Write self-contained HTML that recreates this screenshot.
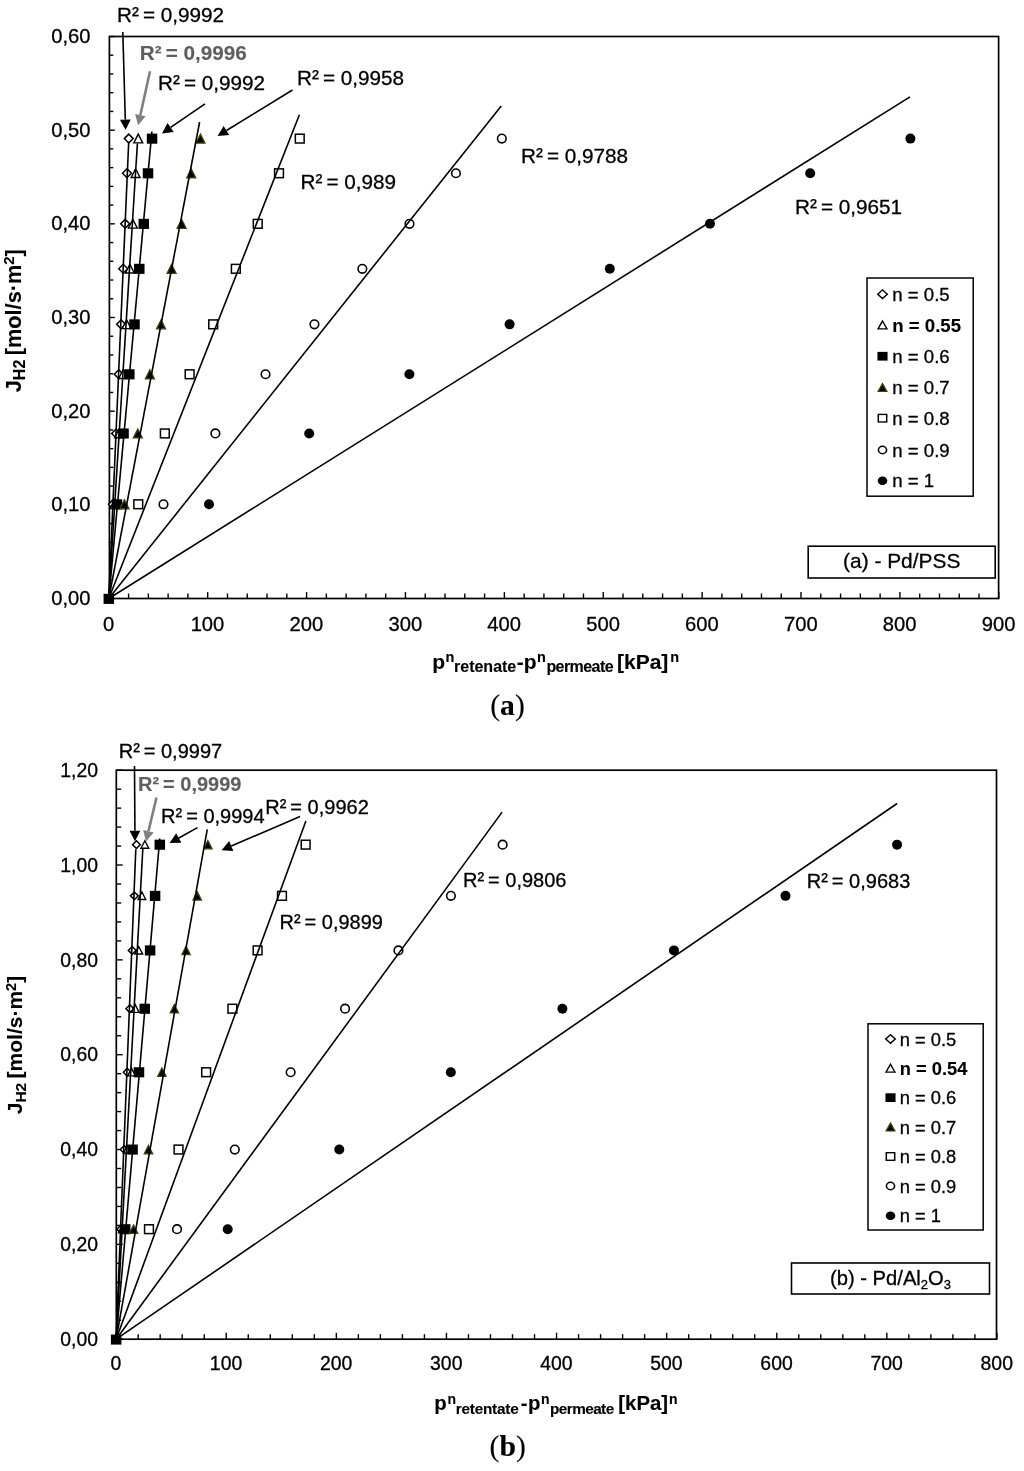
<!DOCTYPE html>
<html><head><meta charset="utf-8"><title>Figure</title>
<style>html,body{margin:0;padding:0;background:#fff}svg{display:block}svg{font-family:"Liberation Sans", sans-serif}text{stroke:#000;stroke-width:.3px}text.b{stroke-width:.12px}</style>
</head><body>
<svg width="1024" height="1471" viewBox="0 0 1024 1471">
<rect width="1024" height="1471" fill="#fff"/>
<g>
<rect x="109.4" y="36.5" width="889.2" height="562.0" fill="none" stroke="#000" stroke-width="1.7"/>
<line x1="108.80" y1="598.5" x2="108.80" y2="592.1" stroke="#000" stroke-width="1.4"/>
<text x="108.60" y="630.5" text-anchor="middle" font-size="20.2">0</text>
<line x1="128.58" y1="598.5" x2="128.58" y2="593.5" stroke="#000" stroke-width="1.4"/>
<line x1="148.36" y1="598.5" x2="148.36" y2="593.5" stroke="#000" stroke-width="1.4"/>
<line x1="168.13" y1="598.5" x2="168.13" y2="593.5" stroke="#000" stroke-width="1.4"/>
<line x1="187.91" y1="598.5" x2="187.91" y2="593.5" stroke="#000" stroke-width="1.4"/>
<line x1="207.69" y1="598.5" x2="207.69" y2="592.1" stroke="#000" stroke-width="1.4"/>
<text x="207.49" y="630.5" text-anchor="middle" font-size="20.2">100</text>
<line x1="227.47" y1="598.5" x2="227.47" y2="593.5" stroke="#000" stroke-width="1.4"/>
<line x1="247.24" y1="598.5" x2="247.24" y2="593.5" stroke="#000" stroke-width="1.4"/>
<line x1="267.02" y1="598.5" x2="267.02" y2="593.5" stroke="#000" stroke-width="1.4"/>
<line x1="286.80" y1="598.5" x2="286.80" y2="593.5" stroke="#000" stroke-width="1.4"/>
<line x1="306.58" y1="598.5" x2="306.58" y2="592.1" stroke="#000" stroke-width="1.4"/>
<text x="306.38" y="630.5" text-anchor="middle" font-size="20.2">200</text>
<line x1="326.36" y1="598.5" x2="326.36" y2="593.5" stroke="#000" stroke-width="1.4"/>
<line x1="346.13" y1="598.5" x2="346.13" y2="593.5" stroke="#000" stroke-width="1.4"/>
<line x1="365.91" y1="598.5" x2="365.91" y2="593.5" stroke="#000" stroke-width="1.4"/>
<line x1="385.69" y1="598.5" x2="385.69" y2="593.5" stroke="#000" stroke-width="1.4"/>
<line x1="405.47" y1="598.5" x2="405.47" y2="592.1" stroke="#000" stroke-width="1.4"/>
<text x="405.27" y="630.5" text-anchor="middle" font-size="20.2">300</text>
<line x1="425.24" y1="598.5" x2="425.24" y2="593.5" stroke="#000" stroke-width="1.4"/>
<line x1="445.02" y1="598.5" x2="445.02" y2="593.5" stroke="#000" stroke-width="1.4"/>
<line x1="464.80" y1="598.5" x2="464.80" y2="593.5" stroke="#000" stroke-width="1.4"/>
<line x1="484.58" y1="598.5" x2="484.58" y2="593.5" stroke="#000" stroke-width="1.4"/>
<line x1="504.36" y1="598.5" x2="504.36" y2="592.1" stroke="#000" stroke-width="1.4"/>
<text x="504.16" y="630.5" text-anchor="middle" font-size="20.2">400</text>
<line x1="524.13" y1="598.5" x2="524.13" y2="593.5" stroke="#000" stroke-width="1.4"/>
<line x1="543.91" y1="598.5" x2="543.91" y2="593.5" stroke="#000" stroke-width="1.4"/>
<line x1="563.69" y1="598.5" x2="563.69" y2="593.5" stroke="#000" stroke-width="1.4"/>
<line x1="583.47" y1="598.5" x2="583.47" y2="593.5" stroke="#000" stroke-width="1.4"/>
<line x1="603.24" y1="598.5" x2="603.24" y2="592.1" stroke="#000" stroke-width="1.4"/>
<text x="603.04" y="630.5" text-anchor="middle" font-size="20.2">500</text>
<line x1="623.02" y1="598.5" x2="623.02" y2="593.5" stroke="#000" stroke-width="1.4"/>
<line x1="642.80" y1="598.5" x2="642.80" y2="593.5" stroke="#000" stroke-width="1.4"/>
<line x1="662.58" y1="598.5" x2="662.58" y2="593.5" stroke="#000" stroke-width="1.4"/>
<line x1="682.36" y1="598.5" x2="682.36" y2="593.5" stroke="#000" stroke-width="1.4"/>
<line x1="702.13" y1="598.5" x2="702.13" y2="592.1" stroke="#000" stroke-width="1.4"/>
<text x="701.93" y="630.5" text-anchor="middle" font-size="20.2">600</text>
<line x1="721.91" y1="598.5" x2="721.91" y2="593.5" stroke="#000" stroke-width="1.4"/>
<line x1="741.69" y1="598.5" x2="741.69" y2="593.5" stroke="#000" stroke-width="1.4"/>
<line x1="761.47" y1="598.5" x2="761.47" y2="593.5" stroke="#000" stroke-width="1.4"/>
<line x1="781.24" y1="598.5" x2="781.24" y2="593.5" stroke="#000" stroke-width="1.4"/>
<line x1="801.02" y1="598.5" x2="801.02" y2="592.1" stroke="#000" stroke-width="1.4"/>
<text x="800.82" y="630.5" text-anchor="middle" font-size="20.2">700</text>
<line x1="820.80" y1="598.5" x2="820.80" y2="593.5" stroke="#000" stroke-width="1.4"/>
<line x1="840.58" y1="598.5" x2="840.58" y2="593.5" stroke="#000" stroke-width="1.4"/>
<line x1="860.36" y1="598.5" x2="860.36" y2="593.5" stroke="#000" stroke-width="1.4"/>
<line x1="880.13" y1="598.5" x2="880.13" y2="593.5" stroke="#000" stroke-width="1.4"/>
<line x1="899.91" y1="598.5" x2="899.91" y2="592.1" stroke="#000" stroke-width="1.4"/>
<text x="899.71" y="630.5" text-anchor="middle" font-size="20.2">800</text>
<line x1="919.69" y1="598.5" x2="919.69" y2="593.5" stroke="#000" stroke-width="1.4"/>
<line x1="939.47" y1="598.5" x2="939.47" y2="593.5" stroke="#000" stroke-width="1.4"/>
<line x1="959.24" y1="598.5" x2="959.24" y2="593.5" stroke="#000" stroke-width="1.4"/>
<line x1="979.02" y1="598.5" x2="979.02" y2="593.5" stroke="#000" stroke-width="1.4"/>
<line x1="998.80" y1="598.5" x2="998.80" y2="592.1" stroke="#000" stroke-width="1.4"/>
<text x="998.60" y="630.5" text-anchor="middle" font-size="20.2">900</text>
<line x1="109.4" y1="598.50" x2="114.80000000000001" y2="598.50" stroke="#000" stroke-width="1.4"/>
<text x="90.5" y="604.90" text-anchor="end" font-size="20.2">0,00</text>
<line x1="109.4" y1="579.77" x2="113.30000000000001" y2="579.77" stroke="#000" stroke-width="1.4"/>
<line x1="109.4" y1="561.03" x2="113.30000000000001" y2="561.03" stroke="#000" stroke-width="1.4"/>
<line x1="109.4" y1="542.30" x2="113.30000000000001" y2="542.30" stroke="#000" stroke-width="1.4"/>
<line x1="109.4" y1="523.57" x2="113.30000000000001" y2="523.57" stroke="#000" stroke-width="1.4"/>
<line x1="109.4" y1="504.83" x2="114.80000000000001" y2="504.83" stroke="#000" stroke-width="1.4"/>
<text x="90.5" y="511.23" text-anchor="end" font-size="20.2">0,10</text>
<line x1="109.4" y1="486.10" x2="113.30000000000001" y2="486.10" stroke="#000" stroke-width="1.4"/>
<line x1="109.4" y1="467.37" x2="113.30000000000001" y2="467.37" stroke="#000" stroke-width="1.4"/>
<line x1="109.4" y1="448.63" x2="113.30000000000001" y2="448.63" stroke="#000" stroke-width="1.4"/>
<line x1="109.4" y1="429.90" x2="113.30000000000001" y2="429.90" stroke="#000" stroke-width="1.4"/>
<line x1="109.4" y1="411.17" x2="114.80000000000001" y2="411.17" stroke="#000" stroke-width="1.4"/>
<text x="90.5" y="417.57" text-anchor="end" font-size="20.2">0,20</text>
<line x1="109.4" y1="392.43" x2="113.30000000000001" y2="392.43" stroke="#000" stroke-width="1.4"/>
<line x1="109.4" y1="373.70" x2="113.30000000000001" y2="373.70" stroke="#000" stroke-width="1.4"/>
<line x1="109.4" y1="354.97" x2="113.30000000000001" y2="354.97" stroke="#000" stroke-width="1.4"/>
<line x1="109.4" y1="336.23" x2="113.30000000000001" y2="336.23" stroke="#000" stroke-width="1.4"/>
<line x1="109.4" y1="317.50" x2="114.80000000000001" y2="317.50" stroke="#000" stroke-width="1.4"/>
<text x="90.5" y="323.90" text-anchor="end" font-size="20.2">0,30</text>
<line x1="109.4" y1="298.77" x2="113.30000000000001" y2="298.77" stroke="#000" stroke-width="1.4"/>
<line x1="109.4" y1="280.03" x2="113.30000000000001" y2="280.03" stroke="#000" stroke-width="1.4"/>
<line x1="109.4" y1="261.30" x2="113.30000000000001" y2="261.30" stroke="#000" stroke-width="1.4"/>
<line x1="109.4" y1="242.57" x2="113.30000000000001" y2="242.57" stroke="#000" stroke-width="1.4"/>
<line x1="109.4" y1="223.83" x2="114.80000000000001" y2="223.83" stroke="#000" stroke-width="1.4"/>
<text x="90.5" y="230.23" text-anchor="end" font-size="20.2">0,40</text>
<line x1="109.4" y1="205.10" x2="113.30000000000001" y2="205.10" stroke="#000" stroke-width="1.4"/>
<line x1="109.4" y1="186.37" x2="113.30000000000001" y2="186.37" stroke="#000" stroke-width="1.4"/>
<line x1="109.4" y1="167.63" x2="113.30000000000001" y2="167.63" stroke="#000" stroke-width="1.4"/>
<line x1="109.4" y1="148.90" x2="113.30000000000001" y2="148.90" stroke="#000" stroke-width="1.4"/>
<line x1="109.4" y1="130.17" x2="114.80000000000001" y2="130.17" stroke="#000" stroke-width="1.4"/>
<text x="90.5" y="136.57" text-anchor="end" font-size="20.2">0,50</text>
<line x1="109.4" y1="111.43" x2="113.30000000000001" y2="111.43" stroke="#000" stroke-width="1.4"/>
<line x1="109.4" y1="92.70" x2="113.30000000000001" y2="92.70" stroke="#000" stroke-width="1.4"/>
<line x1="109.4" y1="73.97" x2="113.30000000000001" y2="73.97" stroke="#000" stroke-width="1.4"/>
<line x1="109.4" y1="55.23" x2="113.30000000000001" y2="55.23" stroke="#000" stroke-width="1.4"/>
<line x1="109.4" y1="36.50" x2="114.80000000000001" y2="36.50" stroke="#000" stroke-width="1.4"/>
<text x="90.5" y="42.90" text-anchor="end" font-size="20.2">0,60</text>
<path d="M112.92,499.82 L117.37,504.27 L112.92,508.71999999999997 L108.47,504.27 Z" fill="#fff" stroke="#000" stroke-width="1.5"/>
<path d="M116.09,429.01 L120.54,433.46 L116.09,437.90999999999997 L111.64,433.46 Z" fill="#fff" stroke="#000" stroke-width="1.5"/>
<path d="M118.75,369.81 L123.2,374.26 L118.75,378.71 L114.3,374.26 Z" fill="#fff" stroke="#000" stroke-width="1.5"/>
<path d="M121.1,319.89 L125.55,324.34 L121.1,328.78999999999996 L116.64999999999999,324.34 Z" fill="#fff" stroke="#000" stroke-width="1.5"/>
<path d="M123.23,264.34000000000003 L127.68,268.79 L123.23,273.24 L118.78,268.79 Z" fill="#fff" stroke="#000" stroke-width="1.5"/>
<path d="M125.18,219.38000000000002 L129.63,223.83 L125.18,228.28 L120.73,223.83 Z" fill="#fff" stroke="#000" stroke-width="1.5"/>
<path d="M127.0,168.8 L131.45,173.25 L127.0,177.7 L122.55,173.25 Z" fill="#fff" stroke="#000" stroke-width="1.5"/>
<path d="M128.71,134.15 L133.16,138.6 L128.71,143.04999999999998 L124.26,138.6 Z" fill="#fff" stroke="#000" stroke-width="1.5"/>
<path d="M114.62,499.82 L119.07000000000001,508.52 L110.17,508.52 Z" fill="#fff" stroke="#000" stroke-width="1.4"/>
<path d="M119.21,429.01 L123.66,437.71 L114.75999999999999,437.71 Z" fill="#fff" stroke="#000" stroke-width="1.4"/>
<path d="M123.14,369.81 L127.59,378.51 L118.69,378.51 Z" fill="#fff" stroke="#000" stroke-width="1.4"/>
<path d="M126.65,319.89 L131.1,328.59 L122.2,328.59 Z" fill="#fff" stroke="#000" stroke-width="1.4"/>
<path d="M129.86,264.34000000000003 L134.31,273.04 L125.41000000000001,273.04 Z" fill="#fff" stroke="#000" stroke-width="1.4"/>
<path d="M132.83,219.38000000000002 L137.28,228.08 L128.38000000000002,228.08 Z" fill="#fff" stroke="#000" stroke-width="1.4"/>
<path d="M135.61,168.8 L140.06,177.5 L131.16000000000003,177.5 Z" fill="#fff" stroke="#000" stroke-width="1.4"/>
<path d="M138.25,134.15 L142.7,142.85 L133.8,142.85 Z" fill="#fff" stroke="#000" stroke-width="1.4"/>
<rect x="111.70" y="499.27" width="10.5" height="10.1" fill="#000"/>
<rect x="118.29" y="428.46" width="10.5" height="10.1" fill="#000"/>
<rect x="124.05" y="369.26" width="10.5" height="10.1" fill="#000"/>
<rect x="129.24" y="319.34" width="10.5" height="10.1" fill="#000"/>
<rect x="134.04" y="263.79" width="10.5" height="10.1" fill="#000"/>
<rect x="138.53" y="218.83" width="10.5" height="10.1" fill="#000"/>
<rect x="142.76" y="168.25" width="10.5" height="10.1" fill="#000"/>
<rect x="146.79" y="133.60" width="10.5" height="10.1" fill="#000"/>
<path d="M124.46,499.77 L128.95999999999998,508.77 L119.96,508.77 Z" fill="#000" stroke="#454500" stroke-width="1.3"/>
<path d="M137.82,428.96 L142.32,437.96 L133.32,437.96 Z" fill="#000" stroke="#454500" stroke-width="1.3"/>
<path d="M149.89,369.76 L154.39,378.76 L145.39,378.76 Z" fill="#000" stroke="#454500" stroke-width="1.3"/>
<path d="M161.07,319.84 L165.57,328.84 L156.57,328.84 Z" fill="#000" stroke="#454500" stroke-width="1.3"/>
<path d="M171.6,264.29 L176.1,273.29 L167.1,273.29 Z" fill="#000" stroke="#454500" stroke-width="1.3"/>
<path d="M181.62,219.33 L186.12,228.33 L177.12,228.33 Z" fill="#000" stroke="#454500" stroke-width="1.3"/>
<path d="M191.21,168.75 L195.71,177.75 L186.71,177.75 Z" fill="#000" stroke="#454500" stroke-width="1.3"/>
<path d="M200.44,134.1 L204.94,143.1 L195.94,143.1 Z" fill="#000" stroke="#454500" stroke-width="1.3"/>
<rect x="133.88" y="499.87" width="8.8" height="8.8" fill="#fff" stroke="#000" stroke-width="1.5"/>
<rect x="160.43" y="429.06" width="8.8" height="8.8" fill="#fff" stroke="#000" stroke-width="1.5"/>
<rect x="185.22" y="369.86" width="8.8" height="8.8" fill="#fff" stroke="#000" stroke-width="1.5"/>
<rect x="208.79" y="319.94" width="8.8" height="8.8" fill="#fff" stroke="#000" stroke-width="1.5"/>
<rect x="231.43" y="264.39000000000004" width="8.8" height="8.8" fill="#fff" stroke="#000" stroke-width="1.5"/>
<rect x="253.33" y="219.43" width="8.8" height="8.8" fill="#fff" stroke="#000" stroke-width="1.5"/>
<rect x="274.6" y="168.85" width="8.8" height="8.8" fill="#fff" stroke="#000" stroke-width="1.5"/>
<rect x="295.35" y="134.2" width="8.8" height="8.8" fill="#fff" stroke="#000" stroke-width="1.5"/>
<circle cx="163.48" cy="504.27" r="4.3" fill="#fff" stroke="#000" stroke-width="1.6"/>
<circle cx="215.37" cy="433.46" r="4.3" fill="#fff" stroke="#000" stroke-width="1.6"/>
<circle cx="265.52" cy="374.26" r="4.3" fill="#fff" stroke="#000" stroke-width="1.6"/>
<circle cx="314.42" cy="324.34" r="4.3" fill="#fff" stroke="#000" stroke-width="1.6"/>
<circle cx="362.35" cy="268.79" r="4.3" fill="#fff" stroke="#000" stroke-width="1.6"/>
<circle cx="409.48" cy="223.83" r="4.3" fill="#fff" stroke="#000" stroke-width="1.6"/>
<circle cx="455.94" cy="173.25" r="4.3" fill="#fff" stroke="#000" stroke-width="1.6"/>
<circle cx="501.81" cy="138.6" r="4.3" fill="#fff" stroke="#000" stroke-width="1.6"/>
<circle cx="209.0" cy="504.27" r="5.0" fill="#000"/>
<circle cx="309.2" cy="433.46" r="5.0" fill="#000"/>
<circle cx="409.4" cy="374.26" r="5.0" fill="#000"/>
<circle cx="509.6" cy="324.34" r="5.0" fill="#000"/>
<circle cx="609.8" cy="268.79" r="5.0" fill="#000"/>
<circle cx="709.99" cy="223.83" r="5.0" fill="#000"/>
<circle cx="810.19" cy="173.25" r="5.0" fill="#000"/>
<circle cx="910.39" cy="138.6" r="5.0" fill="#000"/>
<rect x="103.55" y="593.80" width="10.5" height="10.1" fill="#000"/>
<line x1="108.80" y1="598.50" x2="128.71" y2="141.67" stroke="#000" stroke-width="1.6"/>
<line x1="108.80" y1="598.50" x2="137.40" y2="143.50" stroke="#000" stroke-width="1.6"/>
<line x1="108.80" y1="598.50" x2="151.90" y2="131.50" stroke="#000" stroke-width="1.6"/>
<line x1="108.80" y1="598.50" x2="199.60" y2="122.00" stroke="#000" stroke-width="1.6"/>
<line x1="108.80" y1="598.50" x2="299.40" y2="114.75" stroke="#000" stroke-width="1.6"/>
<line x1="108.80" y1="598.50" x2="501.25" y2="105.90" stroke="#000" stroke-width="1.6"/>
<line x1="108.80" y1="598.50" x2="910.00" y2="96.90" stroke="#000" stroke-width="1.6"/>
<text x="117.0" y="22" font-size="20.7" >R²<tspan dx="-1.6"> = 0,9992</tspan></text>
<text x="139.7" y="59.5" font-size="20.7" fill="#5e5e5e" font-weight="bold" style="stroke:#5e5e5e;stroke-width:.12px">R²<tspan dx="-1.6"> = 0,9996</tspan></text>
<text x="158.0" y="90" font-size="20.7" >R²<tspan dx="-1.6"> = 0,9992</tspan></text>
<text x="297.0" y="84.5" font-size="20.7" >R²<tspan dx="-1.6"> = 0,9958</tspan></text>
<text x="300.5" y="188.5" font-size="20.7" >R²<tspan dx="-1.6"> = 0,989</tspan></text>
<text x="521.0" y="163.3" font-size="20.7" >R²<tspan dx="-1.6"> = 0,9788</tspan></text>
<text x="795.0" y="214.3" font-size="20.7" >R²<tspan dx="-1.6"> = 0,9651</tspan></text>
<line x1="122.8" y1="32" x2="125.30" y2="119.60" stroke="#000" stroke-width="1.6"/><polygon points="125.60,130.10 119.90,119.76 130.70,119.45" fill="#000"/>
<line x1="150" y1="71.2" x2="140.36" y2="115.05" stroke="#808080" stroke-width="2.6"/><polygon points="138.10,125.30 135.08,113.89 145.63,116.21" fill="#808080"/>
<line x1="205" y1="103.8" x2="170.65" y2="127.45" stroke="#000" stroke-width="1.6"/><polygon points="162.00,133.40 167.59,123.00 173.71,131.89" fill="#000"/>
<line x1="292.5" y1="90" x2="226.45" y2="130.51" stroke="#000" stroke-width="1.6"/><polygon points="217.50,136.00 223.63,125.91 229.27,135.11" fill="#000"/>
<rect x="867" y="278" width="106.20000000000005" height="218.2" fill="#fff" stroke="#000" stroke-width="1.5"/>
<g transform="translate(882.5,294.2) scale(1,0.9) translate(-882.5,-294.2)"><path d="M882.5,289.4 L887.3,294.2 L882.5,299.0 L877.7,294.2 Z" fill="#fff" stroke="#000" stroke-width="1.5"/></g>
<text x="892.3" y="300.7" font-size="18.6">n = 0.5</text>
<g transform="translate(882.5,325) scale(1,0.9) translate(-882.5,-325)"><path d="M882.5,320.5 L887.0,329.3 L878.0,329.3 Z" fill="#fff" stroke="#000" stroke-width="1.4"/></g>
<text x="892.3" y="331.5" font-size="18.6" class="b" font-weight="bold">n = 0.55</text>
<g transform="translate(882.5,356.2) scale(1,0.9) translate(-882.5,-356.2)"><rect x="877.45" y="351.40" width="10.1" height="9.7" fill="#000"/></g>
<text x="892.3" y="362.7" font-size="18.6">n = 0.6</text>
<g transform="translate(882.5,387.5) scale(1,0.9) translate(-882.5,-387.5)"><path d="M882.5,383.09999999999997 L886.9,391.90000000000003 L878.1,391.90000000000003 Z" fill="#000" stroke="#454500" stroke-width="1.3"/></g>
<text x="892.3" y="394.0" font-size="18.6">n = 0.7</text>
<g transform="translate(882.5,418.2) scale(1,0.9) translate(-882.5,-418.2)"><rect x="878.3000000000001" y="414.0" width="8.4" height="8.4" fill="#fff" stroke="#000" stroke-width="1.5"/></g>
<text x="892.3" y="424.7" font-size="18.6">n = 0.8</text>
<g transform="translate(882.5,450) scale(1,0.9) translate(-882.5,-450)"><circle cx="882.5" cy="450" r="4.1" fill="#fff" stroke="#000" stroke-width="1.6"/></g>
<text x="892.3" y="456.5" font-size="18.6">n = 0.9</text>
<g transform="translate(882.5,480.8) scale(1,0.9) translate(-882.5,-480.8)"><circle cx="882.5" cy="480.8" r="4.8" fill="#000"/></g>
<text x="892.3" y="487.3" font-size="18.6">n = 1</text>
<rect x="808.2" y="546.2" width="187.0" height="31.799999999999955" fill="#fff" stroke="#000" stroke-width="1.6"/>
<text x="901.7" y="568.2" text-anchor="middle" font-size="20.9">(a) - Pd/PSS</text>
<text class="b" font-weight="bold" font-size="21"><tspan x="432.3" y="668.6">p</tspan><tspan x="445.6" y="662.2" font-size="14.5">n</tspan><tspan x="454.0" y="672.0" font-size="16">retenate</tspan><tspan x="516.8" y="668.6">-</tspan><tspan x="523.7" y="668.6">p</tspan><tspan x="537.0" y="662.2" font-size="14.5">n</tspan><tspan x="546.4" y="672.0" font-size="16" letter-spacing="-0.57">permeate</tspan><tspan x="617.0" y="668.6">[kPa]</tspan><tspan x="670.3" y="662.2" font-size="14.5">n</tspan></text>
<text class="b" transform="translate(21.1,392.2) rotate(-90)" font-size="21.7" font-weight="bold">J<tspan font-size="16" dy="3.4">H2</tspan><tspan dy="-3.4" dx="-1.5"> [mol/s·m</tspan><tspan font-size="15" dy="-6.7">2</tspan><tspan dy="6.7">]</tspan></text>
<text class="b" x="507.5" y="714.7" text-anchor="middle" font-size="29.6" font-weight="bold" font-family='"Liberation Serif", serif'><tspan font-weight="normal">(</tspan>a<tspan font-weight="normal">)</tspan></text>
</g>
<g>
<rect x="116.3" y="770.2" width="880.2" height="569.0" fill="none" stroke="#000" stroke-width="1.7"/>
<line x1="116.15" y1="1339.2" x2="116.15" y2="1332.8" stroke="#000" stroke-width="1.4"/>
<text x="115.95" y="1370.4" text-anchor="middle" font-size="19.4">0</text>
<line x1="138.17" y1="1339.2" x2="138.17" y2="1334.2" stroke="#000" stroke-width="1.4"/>
<line x1="160.19" y1="1339.2" x2="160.19" y2="1334.2" stroke="#000" stroke-width="1.4"/>
<line x1="182.21" y1="1339.2" x2="182.21" y2="1334.2" stroke="#000" stroke-width="1.4"/>
<line x1="204.23" y1="1339.2" x2="204.23" y2="1334.2" stroke="#000" stroke-width="1.4"/>
<line x1="226.25" y1="1339.2" x2="226.25" y2="1332.8" stroke="#000" stroke-width="1.4"/>
<text x="226.05" y="1370.4" text-anchor="middle" font-size="19.4">100</text>
<line x1="248.27" y1="1339.2" x2="248.27" y2="1334.2" stroke="#000" stroke-width="1.4"/>
<line x1="270.29" y1="1339.2" x2="270.29" y2="1334.2" stroke="#000" stroke-width="1.4"/>
<line x1="292.31" y1="1339.2" x2="292.31" y2="1334.2" stroke="#000" stroke-width="1.4"/>
<line x1="314.33" y1="1339.2" x2="314.33" y2="1334.2" stroke="#000" stroke-width="1.4"/>
<line x1="336.35" y1="1339.2" x2="336.35" y2="1332.8" stroke="#000" stroke-width="1.4"/>
<text x="336.15" y="1370.4" text-anchor="middle" font-size="19.4">200</text>
<line x1="358.37" y1="1339.2" x2="358.37" y2="1334.2" stroke="#000" stroke-width="1.4"/>
<line x1="380.39" y1="1339.2" x2="380.39" y2="1334.2" stroke="#000" stroke-width="1.4"/>
<line x1="402.41" y1="1339.2" x2="402.41" y2="1334.2" stroke="#000" stroke-width="1.4"/>
<line x1="424.43" y1="1339.2" x2="424.43" y2="1334.2" stroke="#000" stroke-width="1.4"/>
<line x1="446.45" y1="1339.2" x2="446.45" y2="1332.8" stroke="#000" stroke-width="1.4"/>
<text x="446.25" y="1370.4" text-anchor="middle" font-size="19.4">300</text>
<line x1="468.47" y1="1339.2" x2="468.47" y2="1334.2" stroke="#000" stroke-width="1.4"/>
<line x1="490.49" y1="1339.2" x2="490.49" y2="1334.2" stroke="#000" stroke-width="1.4"/>
<line x1="512.51" y1="1339.2" x2="512.51" y2="1334.2" stroke="#000" stroke-width="1.4"/>
<line x1="534.53" y1="1339.2" x2="534.53" y2="1334.2" stroke="#000" stroke-width="1.4"/>
<line x1="556.55" y1="1339.2" x2="556.55" y2="1332.8" stroke="#000" stroke-width="1.4"/>
<text x="556.35" y="1370.4" text-anchor="middle" font-size="19.4">400</text>
<line x1="578.57" y1="1339.2" x2="578.57" y2="1334.2" stroke="#000" stroke-width="1.4"/>
<line x1="600.59" y1="1339.2" x2="600.59" y2="1334.2" stroke="#000" stroke-width="1.4"/>
<line x1="622.61" y1="1339.2" x2="622.61" y2="1334.2" stroke="#000" stroke-width="1.4"/>
<line x1="644.63" y1="1339.2" x2="644.63" y2="1334.2" stroke="#000" stroke-width="1.4"/>
<line x1="666.65" y1="1339.2" x2="666.65" y2="1332.8" stroke="#000" stroke-width="1.4"/>
<text x="666.45" y="1370.4" text-anchor="middle" font-size="19.4">500</text>
<line x1="688.67" y1="1339.2" x2="688.67" y2="1334.2" stroke="#000" stroke-width="1.4"/>
<line x1="710.69" y1="1339.2" x2="710.69" y2="1334.2" stroke="#000" stroke-width="1.4"/>
<line x1="732.71" y1="1339.2" x2="732.71" y2="1334.2" stroke="#000" stroke-width="1.4"/>
<line x1="754.73" y1="1339.2" x2="754.73" y2="1334.2" stroke="#000" stroke-width="1.4"/>
<line x1="776.75" y1="1339.2" x2="776.75" y2="1332.8" stroke="#000" stroke-width="1.4"/>
<text x="776.55" y="1370.4" text-anchor="middle" font-size="19.4">600</text>
<line x1="798.77" y1="1339.2" x2="798.77" y2="1334.2" stroke="#000" stroke-width="1.4"/>
<line x1="820.79" y1="1339.2" x2="820.79" y2="1334.2" stroke="#000" stroke-width="1.4"/>
<line x1="842.81" y1="1339.2" x2="842.81" y2="1334.2" stroke="#000" stroke-width="1.4"/>
<line x1="864.83" y1="1339.2" x2="864.83" y2="1334.2" stroke="#000" stroke-width="1.4"/>
<line x1="886.85" y1="1339.2" x2="886.85" y2="1332.8" stroke="#000" stroke-width="1.4"/>
<text x="886.65" y="1370.4" text-anchor="middle" font-size="19.4">700</text>
<line x1="908.87" y1="1339.2" x2="908.87" y2="1334.2" stroke="#000" stroke-width="1.4"/>
<line x1="930.89" y1="1339.2" x2="930.89" y2="1334.2" stroke="#000" stroke-width="1.4"/>
<line x1="952.91" y1="1339.2" x2="952.91" y2="1334.2" stroke="#000" stroke-width="1.4"/>
<line x1="974.93" y1="1339.2" x2="974.93" y2="1334.2" stroke="#000" stroke-width="1.4"/>
<line x1="996.95" y1="1339.2" x2="996.95" y2="1332.8" stroke="#000" stroke-width="1.4"/>
<text x="996.75" y="1370.4" text-anchor="middle" font-size="19.4">800</text>
<line x1="116.3" y1="1339.20" x2="122.7" y2="1339.20" stroke="#000" stroke-width="1.4"/>
<text x="98.0" y="1345.90" text-anchor="end" font-size="19.4">0,00</text>
<line x1="116.3" y1="1320.23" x2="121.2" y2="1320.23" stroke="#000" stroke-width="1.4"/>
<line x1="116.3" y1="1301.27" x2="121.2" y2="1301.27" stroke="#000" stroke-width="1.4"/>
<line x1="116.3" y1="1282.30" x2="121.2" y2="1282.30" stroke="#000" stroke-width="1.4"/>
<line x1="116.3" y1="1263.33" x2="121.2" y2="1263.33" stroke="#000" stroke-width="1.4"/>
<line x1="116.3" y1="1244.37" x2="122.7" y2="1244.37" stroke="#000" stroke-width="1.4"/>
<text x="98.0" y="1251.07" text-anchor="end" font-size="19.4">0,20</text>
<line x1="116.3" y1="1225.40" x2="121.2" y2="1225.40" stroke="#000" stroke-width="1.4"/>
<line x1="116.3" y1="1206.43" x2="121.2" y2="1206.43" stroke="#000" stroke-width="1.4"/>
<line x1="116.3" y1="1187.47" x2="121.2" y2="1187.47" stroke="#000" stroke-width="1.4"/>
<line x1="116.3" y1="1168.50" x2="121.2" y2="1168.50" stroke="#000" stroke-width="1.4"/>
<line x1="116.3" y1="1149.53" x2="122.7" y2="1149.53" stroke="#000" stroke-width="1.4"/>
<text x="98.0" y="1156.23" text-anchor="end" font-size="19.4">0,40</text>
<line x1="116.3" y1="1130.57" x2="121.2" y2="1130.57" stroke="#000" stroke-width="1.4"/>
<line x1="116.3" y1="1111.60" x2="121.2" y2="1111.60" stroke="#000" stroke-width="1.4"/>
<line x1="116.3" y1="1092.63" x2="121.2" y2="1092.63" stroke="#000" stroke-width="1.4"/>
<line x1="116.3" y1="1073.67" x2="121.2" y2="1073.67" stroke="#000" stroke-width="1.4"/>
<line x1="116.3" y1="1054.70" x2="122.7" y2="1054.70" stroke="#000" stroke-width="1.4"/>
<text x="98.0" y="1061.40" text-anchor="end" font-size="19.4">0,60</text>
<line x1="116.3" y1="1035.73" x2="121.2" y2="1035.73" stroke="#000" stroke-width="1.4"/>
<line x1="116.3" y1="1016.77" x2="121.2" y2="1016.77" stroke="#000" stroke-width="1.4"/>
<line x1="116.3" y1="997.80" x2="121.2" y2="997.80" stroke="#000" stroke-width="1.4"/>
<line x1="116.3" y1="978.83" x2="121.2" y2="978.83" stroke="#000" stroke-width="1.4"/>
<line x1="116.3" y1="959.87" x2="122.7" y2="959.87" stroke="#000" stroke-width="1.4"/>
<text x="98.0" y="966.57" text-anchor="end" font-size="19.4">0,80</text>
<line x1="116.3" y1="940.90" x2="121.2" y2="940.90" stroke="#000" stroke-width="1.4"/>
<line x1="116.3" y1="921.93" x2="121.2" y2="921.93" stroke="#000" stroke-width="1.4"/>
<line x1="116.3" y1="902.97" x2="121.2" y2="902.97" stroke="#000" stroke-width="1.4"/>
<line x1="116.3" y1="884.00" x2="121.2" y2="884.00" stroke="#000" stroke-width="1.4"/>
<line x1="116.3" y1="865.03" x2="122.7" y2="865.03" stroke="#000" stroke-width="1.4"/>
<text x="98.0" y="871.73" text-anchor="end" font-size="19.4">1,00</text>
<line x1="116.3" y1="846.07" x2="121.2" y2="846.07" stroke="#000" stroke-width="1.4"/>
<line x1="116.3" y1="827.10" x2="121.2" y2="827.10" stroke="#000" stroke-width="1.4"/>
<line x1="116.3" y1="808.13" x2="121.2" y2="808.13" stroke="#000" stroke-width="1.4"/>
<line x1="116.3" y1="789.17" x2="121.2" y2="789.17" stroke="#000" stroke-width="1.4"/>
<line x1="116.3" y1="770.20" x2="122.7" y2="770.20" stroke="#000" stroke-width="1.4"/>
<text x="98.0" y="776.90" text-anchor="end" font-size="19.4">1,20</text>
<path d="M120.74,1225.29 L124.64,1229.19 L120.74,1233.0900000000001 L116.83999999999999,1229.19 Z" fill="#fff" stroke="#000" stroke-width="1.5"/>
<path d="M124.26,1145.6299999999999 L128.16,1149.53 L124.26,1153.43 L120.36,1149.53 Z" fill="#fff" stroke="#000" stroke-width="1.5"/>
<path d="M127.23,1068.34 L131.13,1072.24 L127.23,1076.14 L123.33,1072.24 Z" fill="#fff" stroke="#000" stroke-width="1.5"/>
<path d="M129.85,1004.8100000000001 L133.75,1008.71 L129.85,1012.61 L125.94999999999999,1008.71 Z" fill="#fff" stroke="#000" stroke-width="1.5"/>
<path d="M132.21,946.48 L136.11,950.38 L132.21,954.28 L128.31,950.38 Z" fill="#fff" stroke="#000" stroke-width="1.5"/>
<path d="M134.39,891.95 L138.29,895.85 L134.39,899.75 L130.48999999999998,895.85 Z" fill="#fff" stroke="#000" stroke-width="1.5"/>
<path d="M136.41,840.74 L140.31,844.64 L136.41,848.54 L132.51,844.64 Z" fill="#fff" stroke="#000" stroke-width="1.5"/>
<path d="M122.41,1225.34 L126.26,1232.8400000000001 L118.55999999999999,1232.8400000000001 Z" fill="#fff" stroke="#000" stroke-width="1.4"/>
<path d="M127.33,1145.6799999999998 L131.17999999999998,1153.18 L123.47999999999999,1153.18 Z" fill="#fff" stroke="#000" stroke-width="1.4"/>
<path d="M131.55,1068.3899999999999 L135.4,1075.89 L127.7,1075.89 Z" fill="#fff" stroke="#000" stroke-width="1.4"/>
<path d="M135.3,1004.86 L139.15,1012.36 L131.45000000000002,1012.36 Z" fill="#fff" stroke="#000" stroke-width="1.4"/>
<path d="M138.73,946.53 L142.57999999999998,954.03 L134.88,954.03 Z" fill="#fff" stroke="#000" stroke-width="1.4"/>
<path d="M141.91,892.0 L145.76,899.5 L138.06,899.5 Z" fill="#fff" stroke="#000" stroke-width="1.4"/>
<path d="M144.88,840.79 L148.73,848.29 L141.03,848.29 Z" fill="#fff" stroke="#000" stroke-width="1.4"/>
<rect x="119.97" y="1224.19" width="10.5" height="10.1" fill="#000"/>
<rect x="127.31" y="1144.53" width="10.5" height="10.1" fill="#000"/>
<rect x="133.72" y="1067.24" width="10.5" height="10.1" fill="#000"/>
<rect x="139.51" y="1003.71" width="10.5" height="10.1" fill="#000"/>
<rect x="144.85" y="945.38" width="10.5" height="10.1" fill="#000"/>
<rect x="149.84" y="890.85" width="10.5" height="10.1" fill="#000"/>
<rect x="154.56" y="839.64" width="10.5" height="10.1" fill="#000"/>
<path d="M133.58,1224.9900000000002 L137.78,1233.3899999999999 L129.38000000000002,1233.3899999999999 Z" fill="#000" stroke="#454500" stroke-width="1.3"/>
<path d="M148.46,1145.3300000000002 L152.66,1153.7299999999998 L144.26000000000002,1153.7299999999998 Z" fill="#000" stroke="#454500" stroke-width="1.3"/>
<path d="M161.9,1068.0400000000002 L166.1,1076.4399999999998 L157.70000000000002,1076.4399999999998 Z" fill="#000" stroke="#454500" stroke-width="1.3"/>
<path d="M174.35,1004.51 L178.54999999999998,1012.9100000000001 L170.15,1012.9100000000001 Z" fill="#000" stroke="#454500" stroke-width="1.3"/>
<path d="M186.07,946.18 L190.26999999999998,954.58 L181.87,954.58 Z" fill="#000" stroke="#454500" stroke-width="1.3"/>
<path d="M197.22,891.65 L201.42,900.0500000000001 L193.02,900.0500000000001 Z" fill="#000" stroke="#454500" stroke-width="1.3"/>
<path d="M207.9,840.4399999999999 L212.1,848.84 L203.70000000000002,848.84 Z" fill="#000" stroke="#454500" stroke-width="1.3"/>
<rect x="144.57999999999998" y="1224.79" width="8.8" height="8.8" fill="#fff" stroke="#000" stroke-width="1.5"/>
<rect x="174.13" y="1145.1299999999999" width="8.8" height="8.8" fill="#fff" stroke="#000" stroke-width="1.5"/>
<rect x="201.73" y="1067.84" width="8.8" height="8.8" fill="#fff" stroke="#000" stroke-width="1.5"/>
<rect x="227.98" y="1004.3100000000001" width="8.8" height="8.8" fill="#fff" stroke="#000" stroke-width="1.5"/>
<rect x="253.17999999999998" y="945.98" width="8.8" height="8.8" fill="#fff" stroke="#000" stroke-width="1.5"/>
<rect x="277.56" y="891.45" width="8.8" height="8.8" fill="#fff" stroke="#000" stroke-width="1.5"/>
<rect x="301.25" y="840.24" width="8.8" height="8.8" fill="#fff" stroke="#000" stroke-width="1.5"/>
<circle cx="177.03" cy="1229.19" r="4.3" fill="#fff" stroke="#000" stroke-width="1.6"/>
<circle cx="234.8" cy="1149.53" r="4.3" fill="#fff" stroke="#000" stroke-width="1.6"/>
<circle cx="290.64" cy="1072.24" r="4.3" fill="#fff" stroke="#000" stroke-width="1.6"/>
<circle cx="345.08" cy="1008.71" r="4.3" fill="#fff" stroke="#000" stroke-width="1.6"/>
<circle cx="398.44" cy="950.38" r="4.3" fill="#fff" stroke="#000" stroke-width="1.6"/>
<circle cx="450.91" cy="895.85" r="4.3" fill="#fff" stroke="#000" stroke-width="1.6"/>
<circle cx="502.64" cy="844.64" r="4.3" fill="#fff" stroke="#000" stroke-width="1.6"/>
<circle cx="227.71" cy="1229.19" r="5.0" fill="#000"/>
<circle cx="339.27" cy="1149.53" r="5.0" fill="#000"/>
<circle cx="450.83" cy="1072.24" r="5.0" fill="#000"/>
<circle cx="562.39" cy="1008.71" r="5.0" fill="#000"/>
<circle cx="673.94" cy="950.38" r="5.0" fill="#000"/>
<circle cx="785.5" cy="895.85" r="5.0" fill="#000"/>
<circle cx="897.06" cy="844.64" r="5.0" fill="#000"/>
<rect x="110.90" y="1334.50" width="10.5" height="10.1" fill="#000"/>
<line x1="116.15" y1="1339.20" x2="135.80" y2="849.30" stroke="#000" stroke-width="1.6"/>
<line x1="116.15" y1="1339.20" x2="142.80" y2="849.00" stroke="#000" stroke-width="1.6"/>
<line x1="116.15" y1="1339.20" x2="159.75" y2="838.50" stroke="#000" stroke-width="1.6"/>
<line x1="116.15" y1="1339.20" x2="207.25" y2="829.40" stroke="#000" stroke-width="1.6"/>
<line x1="116.15" y1="1339.20" x2="305.90" y2="820.90" stroke="#000" stroke-width="1.6"/>
<line x1="116.15" y1="1339.20" x2="502.10" y2="812.10" stroke="#000" stroke-width="1.6"/>
<line x1="116.15" y1="1339.20" x2="897.10" y2="803.50" stroke="#000" stroke-width="1.6"/>
<text x="118.7" y="757.5" font-size="20.0" >R²<tspan dx="-1.6"> = 0,9997</tspan></text>
<text x="138.0" y="791" font-size="20.0" fill="#5e5e5e" font-weight="bold" style="stroke:#5e5e5e;stroke-width:.12px">R²<tspan dx="-1.6"> = 0,9999</tspan></text>
<text x="161.1" y="822.6" font-size="20.0" >R²<tspan dx="-1.6"> = 0,9994</tspan></text>
<text x="265.3" y="814" font-size="20.0" >R²<tspan dx="-1.6"> = 0,9962</tspan></text>
<text x="279.5" y="929" font-size="20.0" >R²<tspan dx="-1.6"> = 0,9899</tspan></text>
<text x="463.0" y="886.5" font-size="20.0" >R²<tspan dx="-1.6"> = 0,9806</tspan></text>
<text x="806.8" y="888" font-size="20.0" >R²<tspan dx="-1.6"> = 0,9683</tspan></text>
<line x1="134.5" y1="766" x2="134.93" y2="830.70" stroke="#000" stroke-width="1.6"/><polygon points="135.00,841.20 129.53,830.74 140.33,830.66" fill="#000"/>
<line x1="156.5" y1="797.5" x2="148.44" y2="831.29" stroke="#808080" stroke-width="2.6"/><polygon points="146.00,841.50 143.18,830.03 153.69,832.54" fill="#808080"/>
<line x1="197.5" y1="827.6" x2="178.79" y2="837.93" stroke="#000" stroke-width="1.6"/><polygon points="169.60,843.00 176.18,833.20 181.40,842.65" fill="#000"/>
<line x1="300" y1="816.5" x2="231.25" y2="846.05" stroke="#000" stroke-width="1.6"/><polygon points="221.60,850.20 229.11,841.09 233.38,851.01" fill="#000"/>
<rect x="868" y="1023.8" width="115.20000000000005" height="206.20000000000005" fill="#fff" stroke="#000" stroke-width="1.5"/>
<g transform="translate(890.5,1039) scale(1,0.9) translate(-890.5,-1039)"><path d="M890.5,1034.2 L895.3,1039 L890.5,1043.8 L885.7,1039 Z" fill="#fff" stroke="#000" stroke-width="1.5"/></g>
<text x="899.8" y="1045.5" font-size="18.3">n = 0.5</text>
<g transform="translate(890.5,1068.3) scale(1,0.9) translate(-890.5,-1068.3)"><path d="M890.5,1063.8 L895.0,1072.6 L886.0,1072.6 Z" fill="#fff" stroke="#000" stroke-width="1.4"/></g>
<text x="899.8" y="1074.8" font-size="18.3" class="b" font-weight="bold">n = 0.54</text>
<g transform="translate(890.5,1097.6) scale(1,0.9) translate(-890.5,-1097.6)"><rect x="885.45" y="1092.80" width="10.1" height="9.7" fill="#000"/></g>
<text x="899.8" y="1104.1" font-size="18.3">n = 0.6</text>
<g transform="translate(890.5,1127) scale(1,0.9) translate(-890.5,-1127)"><path d="M890.5,1122.6000000000001 L894.9,1131.3999999999999 L886.1,1131.3999999999999 Z" fill="#000" stroke="#454500" stroke-width="1.3"/></g>
<text x="899.8" y="1133.5" font-size="18.3">n = 0.7</text>
<g transform="translate(890.5,1156.5) scale(1,0.9) translate(-890.5,-1156.5)"><rect x="886.3000000000001" y="1152.3" width="8.4" height="8.4" fill="#fff" stroke="#000" stroke-width="1.5"/></g>
<text x="899.8" y="1163.0" font-size="18.3">n = 0.8</text>
<g transform="translate(890.5,1186) scale(1,0.9) translate(-890.5,-1186)"><circle cx="890.5" cy="1186" r="4.1" fill="#fff" stroke="#000" stroke-width="1.6"/></g>
<text x="899.8" y="1192.5" font-size="18.3">n = 0.9</text>
<g transform="translate(890.5,1215.7) scale(1,0.9) translate(-890.5,-1215.7)"><circle cx="890.5" cy="1215.7" r="4.8" fill="#000"/></g>
<text x="899.8" y="1222.2" font-size="18.3">n = 1</text>
<rect x="791.5" y="1263" width="198.0" height="31" fill="#fff" stroke="#000" stroke-width="1.6"/>
<text x="890.5" y="1284.5" text-anchor="middle" font-size="20.2">(b) - Pd/Al<tspan font-size="13" dy="4">2</tspan><tspan dy="-4">O</tspan><tspan font-size="13" dy="4">3</tspan></text>
<text class="b" font-weight="bold" font-size="20.4"><tspan x="434.3" y="1410.3">p</tspan><tspan x="447.5" y="1403.8999999999999" font-size="14.0">n</tspan><tspan x="455.7" y="1413.7" font-size="15.3" letter-spacing="-0.2">retentate</tspan><tspan x="520.8" y="1410.3">-</tspan><tspan x="527.9" y="1410.3">p</tspan><tspan x="541.0" y="1403.8999999999999" font-size="14.0">n</tspan><tspan x="550.0" y="1413.7" font-size="15.3" letter-spacing="-0.55">permeate</tspan><tspan x="618.3" y="1410.3">[kPa]</tspan><tspan x="669.0" y="1403.8999999999999" font-size="14.0">n</tspan></text>
<text class="b" transform="translate(22.4,1114.3) rotate(-90)" font-size="21.0" font-weight="bold">J<tspan font-size="15.5" dy="3.4">H2</tspan><tspan dy="-3.4" dx="-1.5"> [mol/s·m</tspan><tspan font-size="14.5" dy="-6.7">2</tspan><tspan dy="6.7">]</tspan></text>
<text class="b" x="507.7" y="1455.6" text-anchor="middle" font-size="29.6" font-weight="bold" font-family='"Liberation Serif", serif'><tspan font-weight="normal">(</tspan>b<tspan font-weight="normal">)</tspan></text>
</g>
</svg>
</body></html>
